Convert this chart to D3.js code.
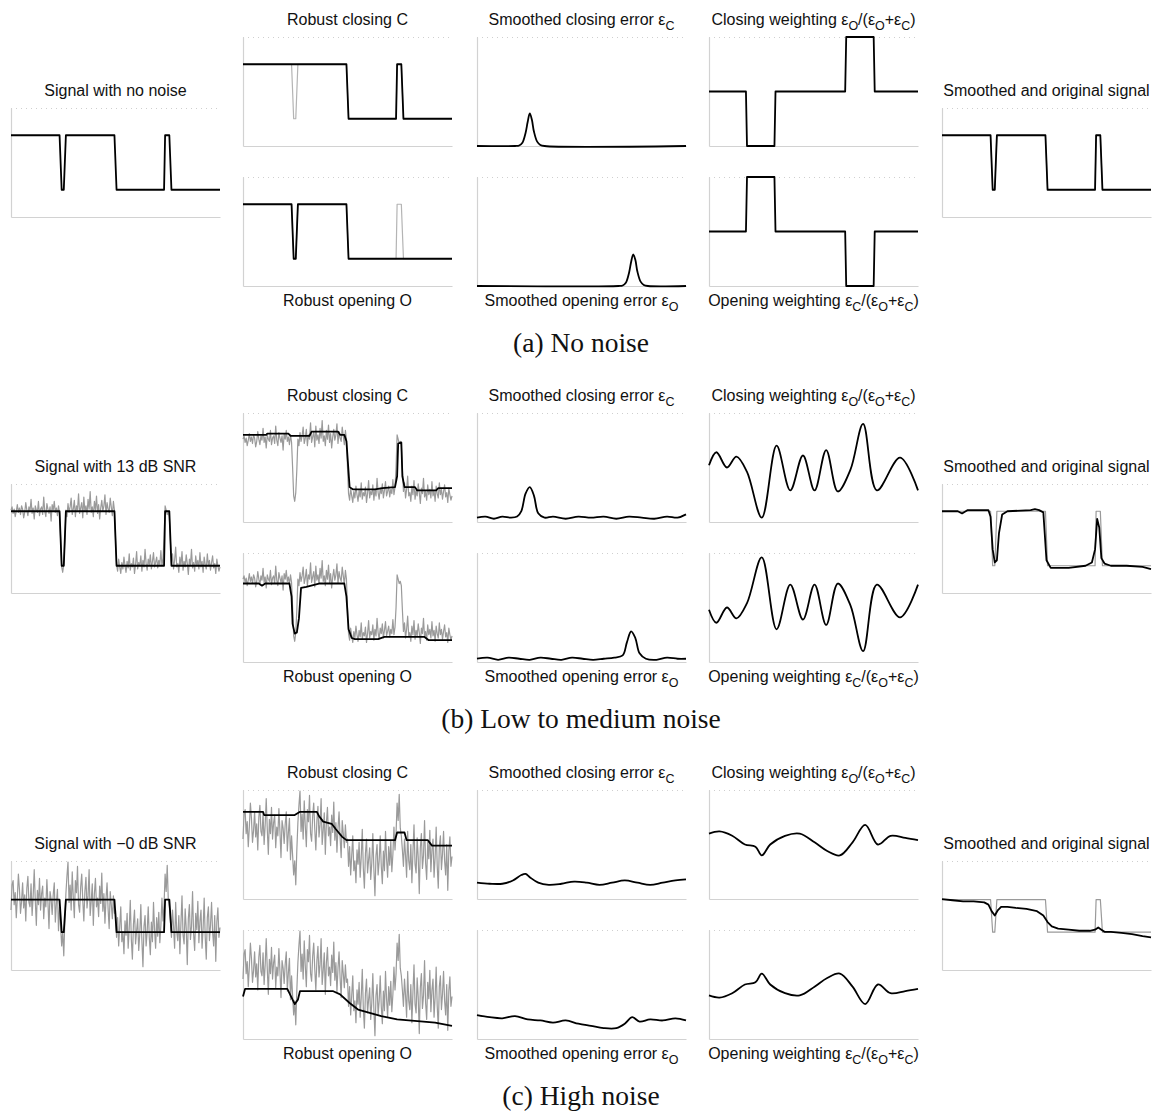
<!DOCTYPE html>
<meta charset="utf-8">
<style>
body { margin: 0; background: #fff; }
.title { font-family: "Liberation Sans", Arial, sans-serif; font-size: 16px; fill: #111; }
.caption { font-family: "Liberation Serif", "Times New Roman", serif; font-size: 27.5px; fill: #111; }
.axis path { stroke: #d2d2d2; stroke-width: 1.2; }
.topline { stroke: #cfcfcf; stroke-width: 1; stroke-dasharray: 1,4; }
</style>
<svg width="1156" height="1113"></svg>
<script src="https://cdn.jsdelivr.net/npm/d3@7"></script>
<script>

// ---- data (sample index 0..198, values as fraction of panel height) ----
var stepX  = [0, 46, 48, 50, 52, 98, 100, 145, 146, 150, 152, 198];
var cleanY = [.75, .75, .25, .25, .75, .75, .25, .25, .75, .75, .25, .25];
var cleanYc = [.646, .646, .347, .347, .646, .646, .347, .347, .646, .646, .347, .347];

// row (a): no noise
var closeAx = [0, 98, 100, 145, 146, 150, 152, 198];
var closeAy = [.75, .75, .25, .25, .75, .75, .25, .25];
var openAx  = [0, 46, 48, 50, 52, 98, 100, 198];
var openAy  = [.75, .75, .25, .25, .75, .75, .25, .25];
var errCAx = [0, 36, 40, 43, 46, 48, 50, 52, 54, 57, 60, 64, 198];
var errCAy = [0, 0, .005, .03, .12, .22, .30, .24, .13, .04, .01, 0, 0];
var errOAx = [0, 134, 138, 141, 144, 146, 148, 150, 152, 155, 158, 162, 198];
var errOAy = [0, 0, .005, .03, .12, .22, .29, .24, .13, .04, .01, 0, 0];
var wCAx = [0, 35, 36, 62, 63, 129, 130, 156, 157, 198];
var wCAy = [.5, .5, 0, 0, .5, .5, 1, 1, .5, .5];

// row (b): 13 dB SNR, one sample per index
var noiseB = [
  .76, .79, .73, .77, .70, .75, .81, .74, .78, .72,
  .80, .77, .69, .74, .83, .76, .71, .79, .75, .86,
  .73, .78, .68, .80, .76, .74, .84, .71, .77, .79,
  .72, .88, .75, .70, .82, .77, .73, .79, .66, .81,
  .76, .84, .74, .78, .71, .80,
  .73, .50, .24, .19, .27, .48, .76, .70,
  .82, .74, .79, .87, .72, .77,
  .85, .70, .80, .76, .91, .73, .78, .83, .69, .88,
  .75, .80, .72, .86, .77, .93, .74, .79, .70, .84,
  .76, .89, .73, .81, .68, .78, .85, .75, .80, .90,
  .72, .83, .77, .74, .87, .79, .71, .84, .76,
  .50,
  .26, .20, .31, .24, .18, .28, .22, .33, .25, .19,
  .29, .23, .36, .21, .27, .24, .32, .18, .26, .38,
  .22, .28, .25, .34, .20, .30, .24, .40, .27, .21,
  .31, .26, .35, .22, .29, .37, .24, .28, .33, .23,
  .30, .26, .39, .25, .32,
  .50,
  .80, .76, .72, .74, .70,
  .48,
  .28, .36, .22, .30, .42, .24, .27, .19,
  .33, .25, .38, .21, .29, .24, .35, .27, .17, .31,
  .26, .40, .23, .28, .20, .34, .25, .30, .22, .37,
  .24, .29, .19, .33, .26, .22, .36, .25, .30, .21,
  .28, .34, .23, .27, .18, .31, .25, .20, .24];
var closeBx = [0, 22, 23, 43, 45, 63, 65, 90, 92, 96, 98, 101, 104, 125, 132, 144, 146, 147, 150, 151, 153, 163, 165, 183, 185, 198];
var closeBy = [.80, .80, .81, .81, .79, .79, .83, .83, .80, .80, .74, .32, .30, .30, .31, .32, .42, .72, .73, .42, .32, .32, .29, .29, .31, .31];
var openBx = [0, 15, 18, 21, 44, 46, 47, 49, 51, 53, 55, 60, 72, 96, 98, 100, 103, 106, 128, 134, 172, 176, 198];
var openBy = [.72, .72, .70, .72, .72, .60, .35, .26, .27, .40, .68, .69, .72, .72, .60, .30, .22, .21, .21, .23, .23, .20, .20];
var errCBx = [0, 8, 16, 24, 32, 38, 42, 46, 50, 54, 58, 64, 72, 84, 96, 108, 120, 132, 144, 156, 168, 180, 190, 198];
var errCBy = [.04, .05, .03, .05, .04, .05, .10, .26, .32, .24, .08, .04, .05, .03, .05, .04, .05, .03, .05, .04, .03, .05, .04, .07];
var errOBx = [0, 10, 20, 30, 40, 50, 60, 70, 80, 90, 100, 110, 120, 130, 138, 142, 146, 150, 154, 160, 170, 180, 190, 198];
var errOBy = [.03, .04, .02, .04, .03, .02, .04, .03, .02, .04, .03, .02, .03, .04, .06, .18, .28, .22, .08, .03, .02, .04, .03, .03];
var wCBx = [0, 7, 17, 26, 36, 50, 64, 77, 89, 100, 111, 122, 134, 146, 159, 181, 198];
var wCBy = [.52, .64, .50, .60, .46, .04, .70, .29, .61, .29, .66, .28, .48, .90, .29, .59, .29];
var smoothBx = [0, 15, 19, 24, 44, 46, 48, 50, 52, 54, 57, 62, 84, 88, 92, 96, 99, 103, 120, 136, 142, 145, 147, 149, 151, 154, 160, 175, 190, 198];
var smoothBy = [.75, .75, .73, .76, .76, .70, .40, .28, .30, .55, .72, .75, .76, .77, .76, .74, .30, .23, .23, .25, .28, .40, .68, .60, .32, .27, .25, .25, .24, .22];

// row (c): 0 dB SNR
var noiseC = [
  .55, .78, .82, .60, .71, .48, .66, .88, .74, .52,
  .63, .80, .57, .69, .45, .75, .86, .62, .58, .79,
  .50, .68, .92, .64, .41, .73, .60, .84, .55, .70,
  .77, .47, .66, .58, .83, .62, .38, .72, .65, .51,
  .69, .80, .44, .61, .74, .36,
  .58, .40, .22, .35, .13, .45, .70, .86,
  .99, .62, .78, .55, .90, .67,
  .48, .82, .71, .95, .60, .53, .76, .88, .64, .45,
  .72, .85, .57, .68, .92, .50, .63, .79, .41, .70,
  .84, .58, .66, .49, .77, .61, .89, .54, .70, .43,
  .65, .80, .56, .38, .72, .60, .47, .68, .52,
  .55,
  .30, .48, .22, .40, .58, .26, .35, .15, .45, .32,
  .52, .20, .38, .64, .28, .10, .42, .55, .24, .36,
  .47, .18, .33, .60, .27, .03, .40, .50, .22, .35,
  .58, .30, .14, .44, .26, .62, .37, .20, .48, .31,
  .53, .25, .41, .66, .45,
  .60,
  .88, .72, .96, .65, .58,
  .45,
  .30, .55, .40, .20, .62, .35, .27, .50,
  .15, .43, .68, .32, .24, .56, .38, .05, .47, .60,
  .28, .40, .72, .33, .18, .52, .37, .63, .25, .45,
  .55, .20, .38, .66, .30, .10, .48, .58, .27, .41,
  .62, .35, .22, .50, .08, .44, .57, .30, .39];
var closeCx = [0, 19, 20, 49, 54, 70, 72, 76, 84, 88, 94, 98, 144, 146, 153, 155, 175, 179, 198];
var closeCy = [.80, .80, .77, .77, .80, .80, .76, .71, .69, .64, .57, .54, .54, .61, .61, .54, .54, .49, .49];
var openCx = [0, 2, 42, 45, 49, 52, 54, 85, 92, 101, 109, 131, 146, 182, 198];
var openCy = [.39, .46, .46, .40, .32, .36, .44, .44, .41, .33, .27, .21, .18, .15, .12];
var errCCx = [0, 12, 24, 34, 42, 46, 50, 58, 68, 80, 92, 104, 116, 128, 140, 152, 164, 176, 188, 198];
var errCCy = [.15, .14, .14, .17, .22, .23, .20, .15, .13, .14, .16, .15, .13, .15, .17, .15, .13, .15, .17, .18];
var errOCx = [0, 12, 24, 36, 48, 60, 72, 84, 96, 108, 120, 132, 140, 147, 154, 164, 176, 188, 198];
var errOCy = [.22, .20, .19, .21, .18, .17, .15, .17, .14, .12, .10, .10, .14, .20, .16, .18, .17, .19, .17];
var wCCx = [0, 10, 22, 34, 44, 50, 58, 72, 86, 100, 112, 124, 136, 148, 160, 172, 186, 198];
var wCCy = [.60, .62, .58, .50, .48, .40, .50, .58, .60, .52, .44, .40, .52, .68, .50, .58, .56, .54];
var smoothCx = [0, 10, 20, 30, 40, 44, 47, 50, 53, 56, 62, 70, 80, 90, 96, 100, 104, 110, 120, 130, 140, 145, 148, 151, 154, 160, 170, 180, 190, 198];
var smoothCy = [.65, .64, .63, .63, .62, .60, .54, .50, .55, .58, .58, .57, .56, .54, .50, .44, .40, .38, .37, .36, .36, .37, .39, .37, .35, .35, .34, .33, .31, .30];

// ---- helpers ----
function zip(xs, ys) { return xs.map(function(v, i) { return [v, ys[i]]; }); }
function samples(vals) { return vals.map(function(v, i) { return [i, v]; }); }
function flip(pts) { return pts.map(function(p) { return [p[0], 1 - p[1]]; }); }

var svg = d3.select("svg");
var PW = 209, PH = 109;
var colX = [11, 243, 477, 709, 942];
var rowOff = [0, 376, 753];
var x = d3.scaleLinear().domain([0, 198]).range([0, PW]);
var y = d3.scaleLinear().domain([0, 1]).range([PH, 0]);

function panel(px, py, series) {
  var g = svg.append("g").attr("transform", "translate(" + px + "," + py + ")");
  g.append("line").attr("class", "topline").attr("x1", 0).attr("x2", PW).attr("y1", 0.5).attr("y2", 0.5);
  g.append("g").attr("class", "axis").attr("transform", "translate(0," + PH + ")")
    .call(d3.axisBottom(x).tickValues([]).tickSizeOuter(0));
  g.append("g").attr("class", "axis")
    .call(d3.axisLeft(y).tickValues([]).tickSizeOuter(0));
  series.forEach(function(s) {
    var line = d3.line().x(function(d) { return x(d[0]); }).y(function(d) { return y(d[1]); })
      .curve(s.smooth ? d3.curveCatmullRom.alpha(0.5) : d3.curveLinear);
    g.append("path").datum(s.pts).attr("d", line)
      .attr("fill", "none")
      .attr("stroke", s.gray ? (s.light ? "#b4b4b4" : "#9a9a9a") : "#000")
      .attr("stroke-width", s.gray ? 1.2 : 1.8)
      .attr("stroke-linejoin", "round");
  });
}

// text with subscripts: parts = [[text, isSub], ...]
function label(cx, by, parts) {
  var t = svg.append("text").attr("class", "title").attr("x", cx).attr("y", by).attr("text-anchor", "middle");
  var down = false;
  parts.forEach(function(p) {
    var s = t.append("tspan").text(p[0]);
    if (p[1] && !down) { s.attr("dy", 5).attr("font-size", "12.5px"); down = true; }
    else if (p[1]) { s.attr("font-size", "12.5px"); }
    else if (down) { s.attr("dy", -5); down = false; }
  });
}

var rows = [
  { sigTitle: [["Signal with no noise"]], caption: "(a) No noise",
    sig: [{pts: zip(stepX, cleanY)}],
    close: [{pts: zip(stepX, cleanY), gray: 1, light: 1}, {pts: zip(closeAx, closeAy)}],
    open: [{pts: zip(stepX, cleanY), gray: 1, light: 1}, {pts: zip(openAx, openAy)}],
    errC: [{pts: zip(errCAx, errCAy), smooth: 1}],
    errO: [{pts: zip(errOAx, errOAy), smooth: 1}],
    wC: [{pts: zip(wCAx, wCAy)}],
    wO: [{pts: flip(zip(wCAx, wCAy))}],
    out: [{pts: zip(stepX, cleanY), gray: 1, light: 1}, {pts: zip(stepX, cleanY)}] },
  { sigTitle: [["Signal with 13 dB SNR"]], caption: "(b) Low to medium noise",
    sig: [{pts: samples(noiseB), gray: 1}, {pts: zip(stepX, cleanY)}],
    close: [{pts: samples(noiseB), gray: 1}, {pts: zip(closeBx, closeBy)}],
    open: [{pts: samples(noiseB), gray: 1}, {pts: zip(openBx, openBy)}],
    errC: [{pts: zip(errCBx, errCBy), smooth: 1}],
    errO: [{pts: zip(errOBx, errOBy), smooth: 1}],
    wC: [{pts: zip(wCBx, wCBy), smooth: 1}],
    wO: [{pts: flip(zip(wCBx, wCBy)), smooth: 1}],
    out: [{pts: zip(stepX, cleanY), gray: 1}, {pts: zip(smoothBx, smoothBy)}] },
  { sigTitle: [["Signal with \u22120 dB SNR"]], caption: "(c) High noise",
    sig: [{pts: samples(noiseC), gray: 1}, {pts: zip(stepX, cleanYc)}],
    close: [{pts: samples(noiseC), gray: 1}, {pts: zip(closeCx, closeCy)}],
    open: [{pts: samples(noiseC), gray: 1}, {pts: zip(openCx, openCy)}],
    errC: [{pts: zip(errCCx, errCCy), smooth: 1}],
    errO: [{pts: zip(errOCx, errOCy), smooth: 1}],
    wC: [{pts: zip(wCCx, wCCy), smooth: 1}],
    wO: [{pts: flip(zip(wCCx, wCCy)), smooth: 1}],
    out: [{pts: zip(stepX, cleanYc), gray: 1}, {pts: zip(smoothCx, smoothCy)}] }
];

rows.forEach(function(r, i) {
  var o = rowOff[i];
  var top = 37 + o, bot = 177 + o, mid = 108 + o;
  panel(colX[0], mid, r.sig);
  panel(colX[1], top, r.close);
  panel(colX[1], bot, r.open);
  panel(colX[2], top, r.errC);
  panel(colX[2], bot, r.errO);
  panel(colX[3], top, r.wC);
  panel(colX[3], bot, r.wO);
  panel(colX[4], mid, r.out);

  var c = function(k) { return colX[k] + PW / 2; };
  label(c(0), mid - 12, r.sigTitle);
  label(c(4), mid - 12, [["Smoothed and original signal"]]);
  label(c(1), top - 12, [["Robust closing C"]]);
  label(c(2), top - 12, [["Smoothed closing error \u03b5"], ["C", 1]]);
  label(c(3), top - 12, [["Closing weighting \u03b5"], ["O", 1], ["/(\u03b5"], ["O", 1], ["+\u03b5"], ["C", 1], [")"]]);
  label(c(1), bot + PH + 20, [["Robust opening O"]]);
  label(c(2), bot + PH + 20, [["Smoothed opening error \u03b5"], ["O", 1]]);
  label(c(3), bot + PH + 20, [["Opening weighting \u03b5"], ["C", 1], ["/(\u03b5"], ["O", 1], ["+\u03b5"], ["C", 1], [")"]]);

  svg.append("text").attr("class", "caption").attr("x", 581).attr("y", 352 + o)
    .attr("text-anchor", "middle").text(r.caption);
});
</script>
